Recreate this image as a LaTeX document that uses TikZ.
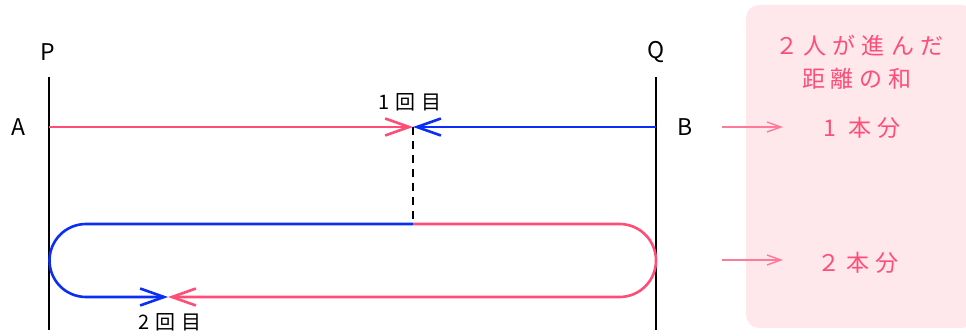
\documentclass[tikz,border=0pt]{standalone}
\usepackage{fontspec}
\setmainfont{Noto Sans CJK JP}
\usetikzlibrary{arrows.meta}
\definecolor{mypink}{HTML}{FF4D78}
\definecolor{myblue}{HTML}{0A2EF5}
\definecolor{lightpink}{HTML}{FF7A98}
\definecolor{boxpink}{HTML}{FFE8EC}
\newcommand{\gp}{\hspace{6pt}}
\begin{document}
\begin{tikzpicture}[x=1pt,y=1pt,
  wall/.style={line width=2.8pt,black},
  route/.style={line width=2.6pt},
  meet/.style={-{Straight Barb[length=24pt,width=17pt]}},
  lab/.style={font=\fontsize{23}{26}\selectfont,inner sep=0pt},
  jp/.style={font=\fontsize{23}{26}\selectfont,inner sep=0pt,text=mypink},
  cnt/.style={font=\fontsize{20}{24}\selectfont,inner sep=0pt},
  side/.style={line width=1.4pt,lightpink,-{Straight Barb[length=14pt,width=10pt]}}]
\useasboundingbox (0,0) rectangle (966,-336);
% box
\fill[boxpink,rounded corners=13pt] (746,-5) rectangle (975,-328);
% walls
\coordinate (Ptop) at (49,-77);
\coordinate (Pbot) at (49,-330);
\coordinate (Qtop) at (656,-77);
\coordinate (Qbot) at (656,-330);
\draw[wall] (Ptop) -- (Pbot);
\draw[wall] (Qtop) -- (Qbot);
\node[lab] (P) at (48,-52) {P};
\node[lab] (Q) at (656,-52) {Q};
\node[lab] (A) at (18,-127) {A};
\node[lab] (B) at (685,-127) {B};
% coordinates
\coordinate (Aend) at (49,-127);
\coordinate (Bend) at (656,-127);
\coordinate (m1) at (413,-127);
\coordinate (m1low) at (413,-224);
\coordinate (m2) at (168,-297);
% first meeting
\draw[route,mypink,meet] (Aend) -- (m1);
\draw[route,myblue,meet] (Bend) -- (m1);
\draw[line width=2pt,black,dash pattern=on 8pt off 6pt] (m1) -- (m1low);
% second meeting
\draw[route,myblue,meet] (m1low) -- (86,-224) arc[start angle=90,end angle=270,radius=36.5] -- (m2);
\draw[route,mypink,meet] (m1low) -- (619.5,-224) arc[start angle=90,end angle=-90,radius=36.5] -- (m2);
\node[cnt] (c1) at (410,-102) {1\gp 回\gp 目};
\node[cnt] (c2) at (170,-322) {2\gp 回\gp 目};
% right side
\node[jp] (t1) at (859,-46) {２\gp 人\gp が\gp 進\gp ん\gp だ};
\node[jp] (t2) at (857,-79) {距\gp 離\gp の\gp 和};
\node[jp] (r1) at (862,-128) {1\gp\gp 本\gp 分};
\node[jp] (r2) at (858,-263) {２\gp 本\gp 分};
\coordinate (s1a) at (722,-127);
\coordinate (s1b) at (783,-127);
\coordinate (s2a) at (722,-260);
\coordinate (s2b) at (783,-260);
\draw[side] (s1a) -- (s1b);
\draw[side] (s2a) -- (s2b);
\end{tikzpicture}
\end{document}
